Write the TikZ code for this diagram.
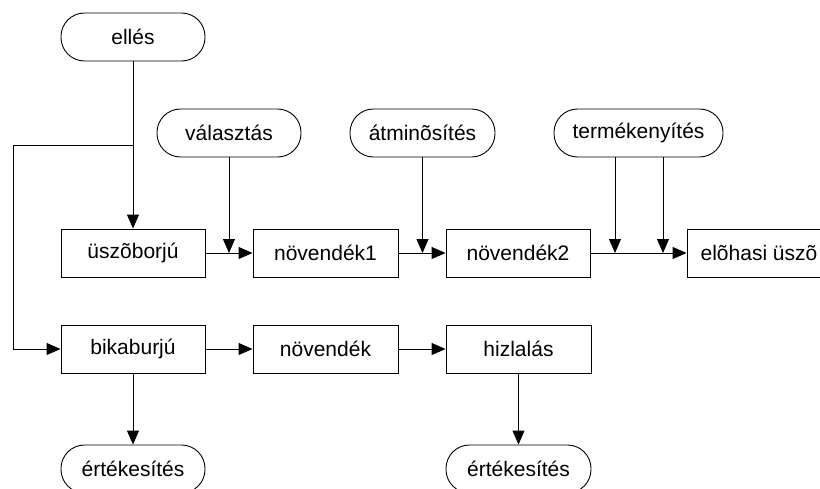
\documentclass[tikz,border=0pt]{standalone}
\usepackage{fontspec}
\setmainfont{Liberation Sans}
\usetikzlibrary{arrows.meta}
\tikzset{
  box/.style={draw, line width=0.9pt, rectangle, minimum width=144pt, minimum height=48pt, inner sep=0pt, font=\fontsize{21}{25}\selectfont},
  pill/.style={box, rounded corners=23.5pt},
  arr/.style={line width=0.9pt, -{Triangle[length=14pt,width=12pt]}},
  ln/.style={line width=0.9pt}
}
\begin{document}
\begin{tikzpicture}[x=1pt,y=-1pt]
\useasboundingbox (0,0) rectangle (820,488);
\clip (0,0) rectangle (820,488);
% event nodes
\node[pill] (ell) at (133,37) {ellés};
\node[pill] (val) at (229,133) {választás};
\node[pill, minimum width=145pt] (atm) at (422.5,133) {átminõsítés};
\node[pill, minimum width=169pt] (term) at (638.5,133) {termékenyítés};
% upper row
\node[box] (usz) at (133,253) {üszõborjú};
\node[box, minimum width=145pt] (nov1) at (325.5,253) {növendék1};
\node[box] (nov2) at (518,253) {növendék2};
\node[box] (elo) at (759,253) {elõhasi üszõ};
% lower row
\node[box] (bika) at (133,349) {bikaburjú};
\node[box, minimum width=145pt] (nov) at (325.5,349) {növendék};
\node[box, minimum width=145pt] (hiz) at (518.5,349) {hizlalás};
% sale nodes
\node[pill] (ert1) at (133,469) {értékesítés};
\node[pill, minimum width=145pt] (ert2) at (518.5,469) {értékesítés};
% connectors
\draw[arr] (ell.south) -- (usz.north);
\coordinate (br) at (133,145);
\coordinate (bl) at (13,145);
\draw[arr] (br) -- (bl) |- (bika.west);
\draw[arr] (usz.east) -- (nov1.west);
\draw[arr] (nov1.east) -- (nov2.west);
\draw[arr] (nov2.east) -- (elo.west);
\draw[arr] (val.south) -- (val.south |- usz.east);
\draw[arr] (atm.south) -- (atm.south |- nov1.east);
\coordinate (t1) at ([xshift=-23.5pt]term.south);
\coordinate (t2) at ([xshift=24.5pt]term.south);
\draw[arr] (t1) -- (t1 |- nov2.east);
\draw[arr] (t2) -- (t2 |- nov2.east);
\draw[arr] (bika.east) -- (nov.west);
\draw[arr] (nov.east) -- (hiz.west);
\draw[arr] (bika.south) -- (ert1.north);
\draw[arr] (hiz.south) -- (ert2.north);
\end{tikzpicture}
\end{document}
